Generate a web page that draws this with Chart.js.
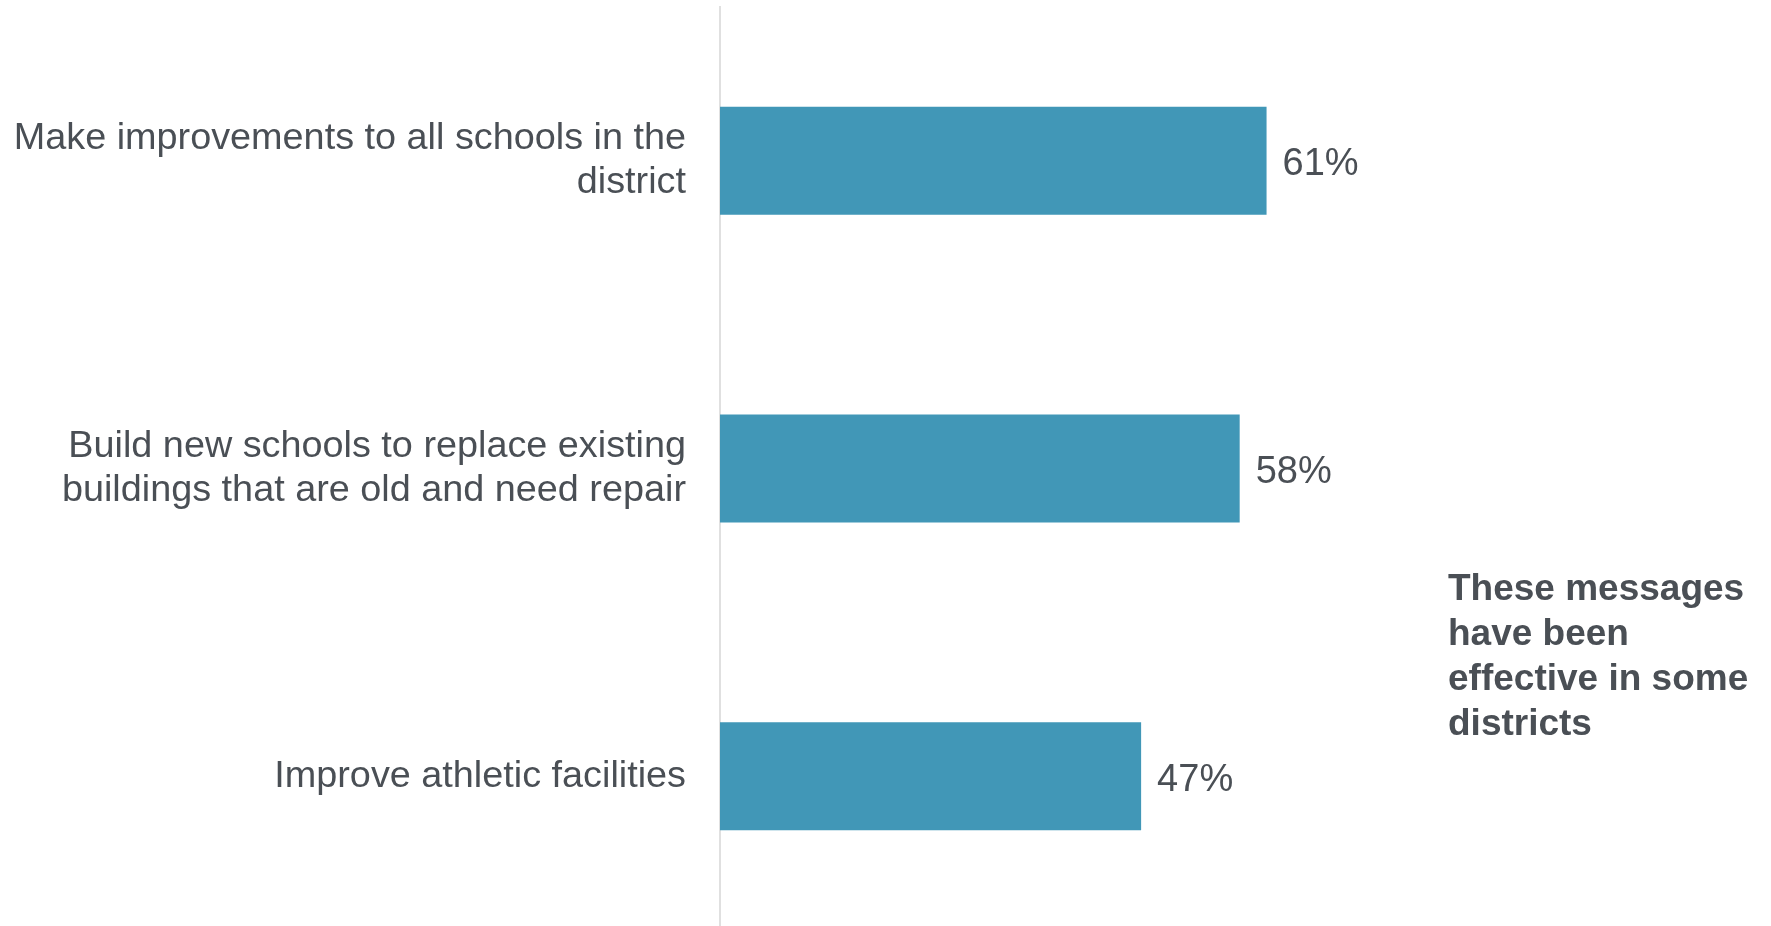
<!DOCTYPE html>
<html>
<head>
<meta charset="utf-8">
<script src="https://cdn.jsdelivr.net/npm/chart.js@4"></script>
<style>
  html, body { margin: 0; padding: 0; background: #ffffff; overflow: hidden; }
  #wrap { width: 1771px; height: 932px; position: relative; }
</style>
</head>
<body>
<div id="wrap"><canvas id="c"></canvas></div>
<script>
const categories = [
  ["Make improvements to all schools in the", "district"],
  ["Build new schools to replace existing", "buildings that are old and need repair"],
  "Improve athletic facilities"
];
const values = [61, 58, 47];
const valueLabels = ["61%", "58%", "47%"];
const noteLines = ["These messages", "have been", "effective in some", "districts"];

const FONT = "'Liberation Sans', Arial, Helvetica, sans-serif";
const TEXT = "#4a4f55";

const labelPlugin = {
  id: "valueLabels",
  afterDatasetsDraw(chart) {
    const ctx = chart.ctx;
    const meta = chart.getDatasetMeta(0);
    ctx.save();
    ctx.fillStyle = TEXT;
    ctx.font = "38px " + FONT;
    ctx.textAlign = "left";
    ctx.textBaseline = "middle";
    meta.data.forEach((bar, i) => {
      ctx.fillText(valueLabels[i], bar.x + 16, bar.y + 4);
    });
    // side note
    ctx.font = "bold 37px " + FONT;
    ctx.textBaseline = "middle";
    const x0 = 1448, y0 = 590, lh = 45;
    noteLines.forEach((t, i) => ctx.fillText(t, x0, y0 + i * lh));
    ctx.restore();
  }
};

new Chart(document.getElementById("c"), {
  type: "bar",
  data: {
    labels: categories,
    datasets: [{
      data: values,
      backgroundColor: "#4197b7",
      borderWidth: 0,
      categoryPercentage: 1.0,
      barPercentage: 0.351
    }]
  },
  options: {
    indexAxis: "y",
    responsive: true,
    maintainAspectRatio: false,
    animation: false,
    layout: { padding: { top: 7, right: 155, bottom: 2, left: 0 } },
    plugins: { legend: { display: false }, tooltip: { enabled: false } },
    scales: {
      x: { display: false, min: 0, max: 100 },
      y: {
        grid: { display: false, drawTicks: false },
        border: { display: true, color: "#e0e0e0", width: 2 },
        ticks: {
          color: TEXT,
          padding: 34,
          font: { family: FONT, size: 37.8, lineHeight: 1.17 }
        },
        afterFit(scale) {
          scale.width = 720;
          scale.paddingTop = 0;
          scale.paddingBottom = 0;
        }
      }
    }
  },
  plugins: [labelPlugin]
});
</script>
</body>
</html>
